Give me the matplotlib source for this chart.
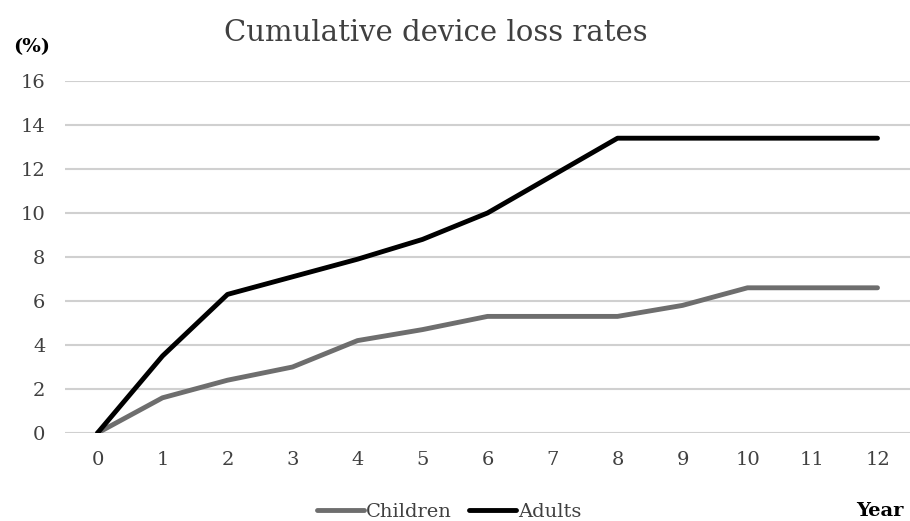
import matplotlib
matplotlib.use("Agg")
import matplotlib.pyplot as plt
from matplotlib.lines import Line2D

years = list(range(0, 13))
children = [0, 1.6, 2.4, 3.0, 4.2, 4.7, 5.3, 5.3, 5.3, 5.8, 6.6, 6.6, 6.6]
adults = [0, 3.5, 6.3, 7.1, 7.9, 8.8, 10.0, 11.7, 13.4, 13.4, 13.4, 13.4, 13.4]
yticks = [0, 2, 4, 6, 8, 10, 12, 14, 16]

plt.rcParams['font.family'] = ['DejaVu Serif']

fig = plt.figure(figsize=(9.10, 5.21), dpi=100)
ax = fig.add_axes([65/910, 1-433/521, 845/910, (433-81)/521])

ax.plot(years, children, color='#6e6e6e', lw=3.5, solid_capstyle='round', solid_joinstyle='round', label='Children', zorder=3)
ax.plot(years, adults, color='black', lw=3.5, solid_capstyle='round', solid_joinstyle='round', label='Adults', zorder=4)

ax.set_xlim(-0.5, 12.5)
ax.set_ylim(0, 16)
ax.set_yticks(yticks)
ax.set_xticks(years)
ax.grid(axis='y', color='#d0d0d0', lw=1.5)
ax.set_axisbelow(True)
for s in ax.spines.values():
    s.set_visible(False)
ax.tick_params(length=0, labelsize=14, colors='#404040')
ax.tick_params(axis='y', pad=14)
ax.tick_params(axis='x', pad=13)

fig.text(436/910, 1-33/521, 'Cumulative device loss rates', ha='center', va='center', fontsize=21, color='#404040')
fig.text(32/910, 1-47/521, '(%)', ha='center', va='center', fontsize=14, fontweight='bold', color='black')
fig.text(880/910, 1-511/521, 'Year', ha='center', va='center', fontsize=14, fontweight='bold', color='black')

handles = [Line2D([], [], color='#6e6e6e', lw=3.5, solid_capstyle='round'),
           Line2D([], [], color='black', lw=3.5, solid_capstyle='round')]
fig.legend(handles, ['Children', 'Adults'], loc='center', bbox_to_anchor=(449/910, 1-512/521),
           ncol=2, frameon=False, fontsize=14, handlelength=2.4, handletextpad=0.1, columnspacing=0.9,
           labelcolor='#404040')

fig.savefig('out.png', dpi=100)
